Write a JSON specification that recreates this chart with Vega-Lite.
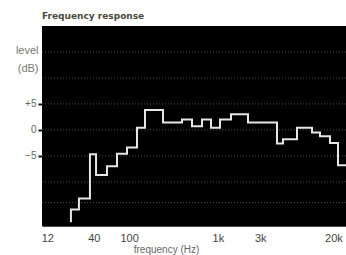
{
  "$schema": "https://vega.github.io/schema/vega-lite/v6.json",
  "width": 304,
  "height": 200,
  "autosize": {"type": "none"},
  "padding": {"left": 42, "top": 26, "right": 0, "bottom": 29},
  "background": "white",
  "title": {
    "text": "Frequency response",
    "anchor": "start",
    "frame": "group",
    "font": "DejaVu Sans",
    "fontSize": 9,
    "fontWeight": "bold",
    "color": "#4a4a3c",
    "offset": 5
  },
  "config": {
    "view": {"fill": "black", "stroke": null},
    "axis": {"labelFont": "Liberation Sans", "titleFont": "Liberation Sans"}
  },
  "layer": [
    {
      "data": {"values": [{"g": 15}, {"g": 10}, {"g": 5}, {"g": 0}, {"g": -5}, {"g": -10}, {"g": -14}]},
      "mark": {"type": "rule", "color": "#4e4e4e", "strokeDash": [1, 2], "strokeWidth": 1},
      "encoding": {
        "y": {"field": "g", "type": "quantitative", "scale": {"domain": [-18.5, 20]}}
      }
    },
    {
      "data": {"values": [
        {"f": 22.1, "db": -17.8},
        {"f": 22.1, "db": -15.3},
        {"f": 27.2, "db": -13.2},
        {"f": 36.2, "db": -4.7},
        {"f": 42.4, "db": -8.7},
        {"f": 56.3, "db": -7.0},
        {"f": 73.0, "db": -4.6},
        {"f": 94.6, "db": -3.4},
        {"f": 122.6, "db": 0.4},
        {"f": 150.9, "db": 3.85},
        {"f": 240.6, "db": 1.4},
        {"f": 393.8, "db": 2.0},
        {"f": 510.6, "db": 0.7},
        {"f": 661.6, "db": 2.0},
        {"f": 835.6, "db": 0.4},
        {"f": 1055, "db": 2.0},
        {"f": 1404, "db": 3.0},
        {"f": 2182, "db": 1.4},
        {"f": 4628, "db": -2.6},
        {"f": 5405, "db": -1.8},
        {"f": 7773, "db": 0.4},
        {"f": 11470, "db": -0.5},
        {"f": 14110, "db": -1.2},
        {"f": 18290, "db": -2.5},
        {"f": 22510, "db": -6.8},
        {"f": 27700, "db": -6.8}
      ]},
      "mark": {"type": "line", "interpolate": "step-after", "color": "#e6e6e6", "strokeWidth": 2, "clip": true},
      "encoding": {
        "x": {
          "field": "f", "type": "quantitative",
          "scale": {"type": "log", "domain": [10.44, 27700], "nice": false},
          "axis": {
            "values": [12, 40, 100, 1000, 3000, 20000],
            "labelExpr": "datum.value >= 1000 ? (datum.value / 1000) + 'k' : datum.label",
            "grid": false, "ticks": false,
            "domainColor": "#444", "domainWidth": 1,
            "labelFontSize": 11, "labelColor": "#444", "labelPadding": 6,
            "labelFlush": false,
            "title": "frequency (Hz)",
            "titleFontSize": 10, "titleFontWeight": "normal", "titleColor": "#666",
            "titleX": 124, "titleY": 23, "titleBaseline": "middle"
          }
        },
        "y": {
          "field": "db", "type": "quantitative",
          "scale": {"domain": [-18.5, 20], "nice": false},
          "axis": {
            "values": [5, 0, -5],
            "labelExpr": "datum.value > 0 ? '+' + datum.value : datum.label",
            "grid": false, "domain": false,
            "ticks": true, "tickColor": "#111", "tickWidth": 2, "tickSize": 4,
            "labelFontSize": 10, "labelColor": "#666", "labelPadding": 2,
            "title": ["level", "(dB)"],
            "titleAngle": 0, "titleAlign": "right", "titleBaseline": "middle",
            "titleX": -4, "titleY": 24, "titleLineHeight": 18,
            "titleFontSize": 11, "titleFontWeight": "normal", "titleColor": "#777"
          }
        }
      }
    }
  ]
}
